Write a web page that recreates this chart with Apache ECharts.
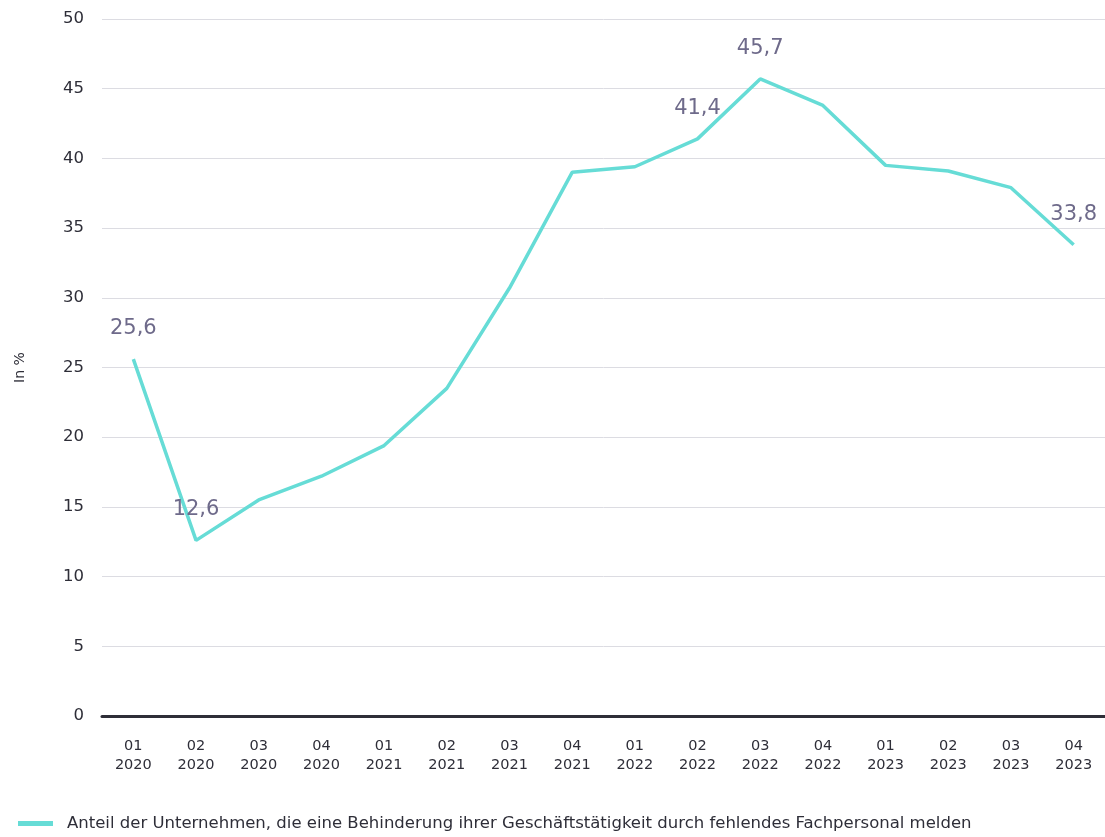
<!DOCTYPE html>
<html>
<head>
<meta charset="utf-8">
<script src="https://cdn.jsdelivr.net/npm/echarts@6/dist/echarts.min.js"></script>
<style>
  html, body { margin: 0; padding: 0; background: #fff; }
  #chart { width: 1105px; height: 837px; }
</style>
</head>
<body>
<div id="chart"></div>
<script>
// Quartale und Werte
const quarters = ['01', '02', '03', '04', '01', '02', '03', '04', '01', '02', '03', '04', '01', '02', '03', '04']
const years = ['2020', '2020', '2020', '2020', '2021', '2021', '2021', '2021', '2022', '2022', '2022', '2022', '2023', '2023', '2023', '2023']
const shareValues = [25.6, 12.6, 15.5, 17.2, 19.4, 23.5, 30.7, 39.0, 39.4, 41.4, 45.7, 43.8, 39.5, 39.1, 37.9, 33.8]
const labelledIndexes = [0, 1, 9, 10, 15]
const seriesName = 'Anteil der Unternehmen, die eine Behinderung ihrer Geschäftstätigkeit durch fehlendes Fachpersonal melden'

const categories = quarters.map((q, i) => q + '\n' + years[i])
const fontFamily = 'DejaVu Sans, sans-serif'

const chart = echarts.init(document.getElementById('chart'))
chart.setOption({
  backgroundColor: '#fff',
  animation: false,
  grid: { left: 102, right: 0, top: 19, bottom: 121 },
  legend: {
    left: 13,
    bottom: 0,
    icon: 'rect',
    itemWidth: 35,
    itemHeight: 5,
    itemGap: 10,
    textStyle: { color: '#2e2e38', fontSize: 16.5, fontFamily, padding: [0, 0, 0, 9] },
    data: [seriesName],
  },
  xAxis: {
    type: 'category',
    data: categories,
    boundaryGap: true,
    axisTick: { show: false },
    axisLine: { lineStyle: { color: '#2e2e38', width: 3 } },
    axisLabel: { color: '#2e2e38', fontSize: 14.5, lineHeight: 19, margin: 21, fontFamily },
  },
  yAxis: {
    type: 'value',
    min: 0,
    max: 50,
    interval: 5,
    name: 'In %',
    nameLocation: 'middle',
    nameGap: 75,
    nameTextStyle: { color: '#2e2e38', fontSize: 14, fontFamily },
    axisLine: { show: false },
    axisTick: { show: false },
    axisLabel: { color: '#2e2e38', fontSize: 16.5, margin: 18, fontFamily },
    splitLine: { lineStyle: { color: '#dcdce2', width: 1 } },
  },
  series: [
    {
      name: seriesName,
      type: 'line',
      data: shareValues.map((v, i) => ({
        value: v,
        label: {
          show: labelledIndexes.includes(i),
          position: 'top',
          distance: 20,
          color: '#6e6a8a',
          fontSize: 21,
          fontFamily,
          formatter: (p) => String(p.value).replace('.', ','),
        },
      })),
      showSymbol: true,
      symbol: 'circle',
      symbolSize: 0,
      lineStyle: { color: '#66dcd6', width: 3.5 },
      itemStyle: { color: '#66dcd6' },
    },
  ],
})
</script>
</body>
</html>
